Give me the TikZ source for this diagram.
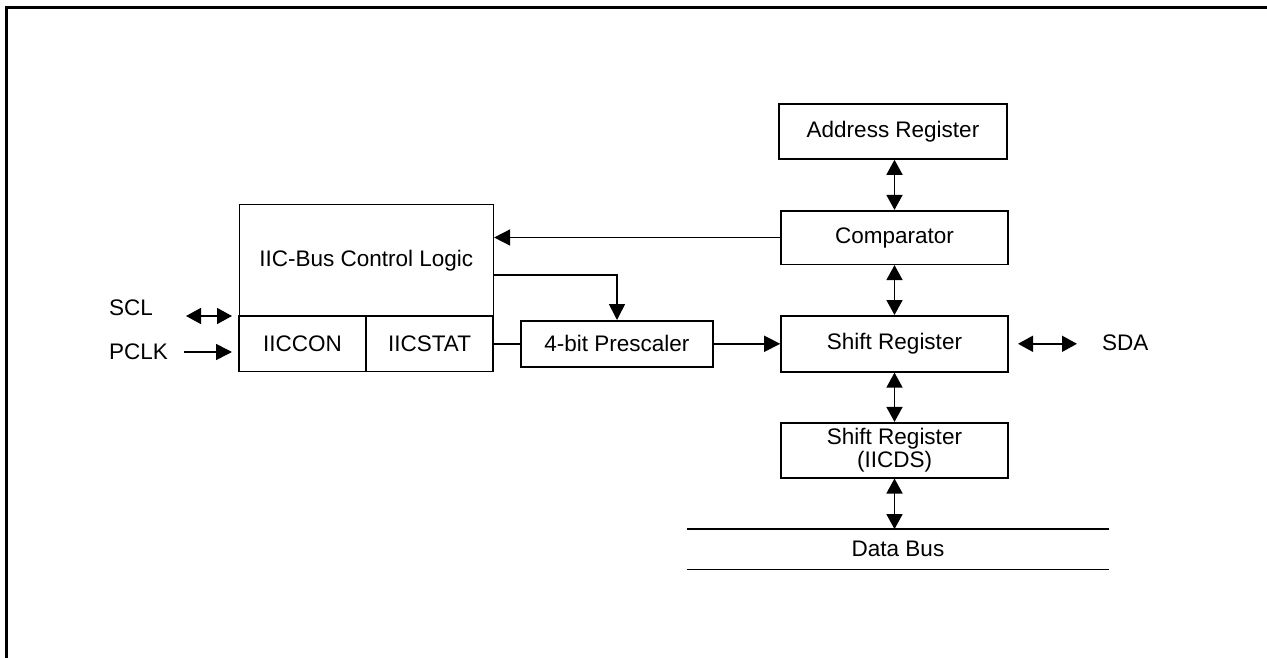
\documentclass[tikz,border=0pt]{standalone}
\usepackage{fontspec}
\setmainfont{Liberation Sans}
\usetikzlibrary{arrows.meta,calc}
\begin{document}
\begin{tikzpicture}[x=1pt,y=-1pt,
  box/.style={draw,line width=1.6pt,inner sep=0pt,font=\fontsize{22.5}{26}\selectfont,align=center},
  lbl/.style={inner sep=0pt,font=\fontsize{22.5}{26}\selectfont},
  conn/.style={line width=1.6pt},
  arr/.style={conn,-{Triangle[length=16pt,width=16pt]}},
  darr/.style={conn,{Triangle[length=15pt,width=16pt]}-{Triangle[length=15pt,width=16pt]}}]
\useasboundingbox (0,0) rectangle (1267,658);
\draw[line width=2.5pt] (6.7,658) -- (6.7,7.3) -- (1267,7.3);
% left block
\node[box,minimum width=254pt,minimum height=111.3pt] (ctrl) at (366.3,260.3) {IIC-Bus Control Logic};
\node[box,minimum width=126.7pt,minimum height=55.7pt] (iiccon) at (302.6,343.8) {IICCON};
\node[box,minimum width=127.3pt,minimum height=55.7pt] (iicstat) at (429.6,343.8) {IICSTAT};
\node[box,minimum width=192pt,minimum height=46pt] (pres) at (617,343.8) {4-bit Prescaler};
% right column
\node[box,minimum width=228pt,minimum height=55pt] (addr) at (893,131.5) {Address Register};
\node[box,minimum width=227pt,minimum height=53.6pt] (comp) at (894.5,237.5) {Comparator};
\node[box,minimum width=227pt,minimum height=56pt] (shift) at (894.5,343.8) {Shift Register};
\node[box,minimum width=227pt,minimum height=55pt] (iicds) at (894.5,450.2) {Shift Register\\[-3pt](IICDS)};
\node[lbl,minimum width=422pt,minimum height=40pt] (bus) at (898,549.3) {Data Bus};
\draw[conn] (bus.north west) -- (bus.north east);
\draw[conn] (bus.south west) -- (bus.south east);
% labels
\node[lbl,anchor=west] (scl) at (109,308) {SCL};
\node[lbl,anchor=west] (pclk) at (109,352) {PCLK};
\node[lbl,anchor=west] (sda) at (1102,343) {SDA};
\coordinate (sclA) at (186,316);
\coordinate (sclB) at (232,316);
\coordinate (pclkA) at (184,352);
\coordinate (pclkB) at (232,352);
\coordinate (sdaA) at (1018,343.8);
\coordinate (sdaB) at (1077,343.8);
\draw[darr] (sclA) -- (sclB);
\draw[arr] (pclkA) -- (pclkB);
\draw[darr] (sdaA) -- (sdaB);
% connectors
\draw[arr] (comp.west) -- (comp.west -| ctrl.east);
\coordinate (ctrlout) at ($(ctrl.south east)+(0,-42)$);
\draw[arr] (ctrlout) -| (pres.north);
\draw[conn] (iicstat.east) -- (pres.west);
\draw[arr] (pres.east) -- (pres.east -| shift.west);
\draw[darr] (addr.south -| comp.north) -- (comp.north);
\draw[darr] (comp.south) -- (shift.north);
\draw[darr] (shift.south) -- (iicds.north);
\draw[darr] (iicds.south) -- (iicds.south |- bus.north);
\end{tikzpicture}
\end{document}
